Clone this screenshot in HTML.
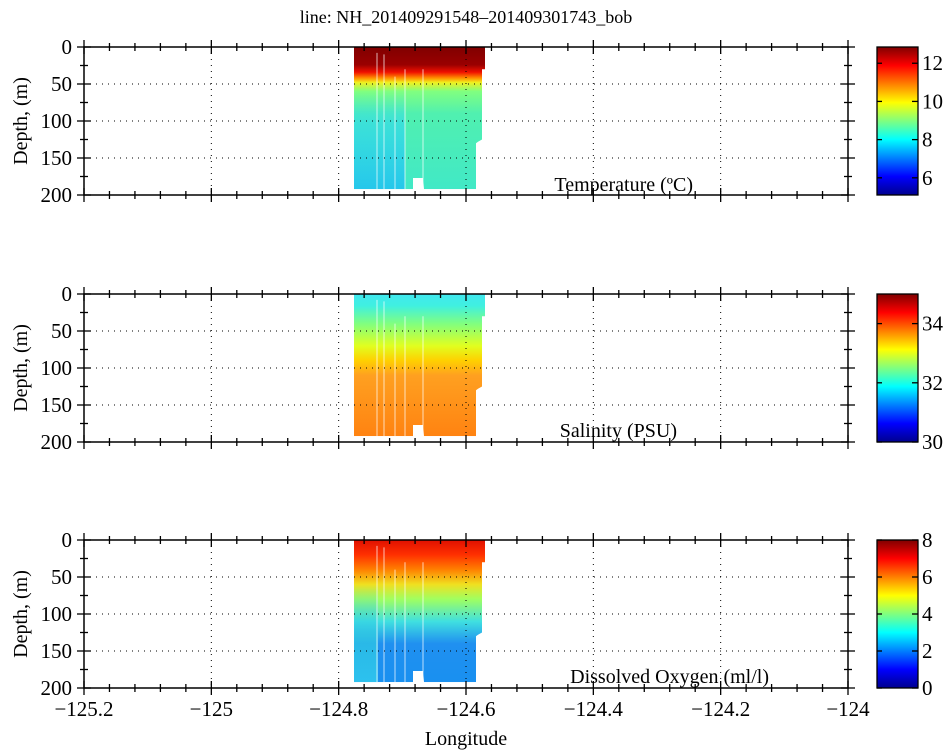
<!DOCTYPE html>
<html><head><meta charset="utf-8"><style>
html,body{margin:0;padding:0;background:#fff;}
svg{display:block;}
svg text{font-family:"Liberation Serif",serif;}
</style></head><body>
<svg id="s" width="950" height="754" xmlns="http://www.w3.org/2000/svg" font-family="Liberation Serif, serif">
<defs>
<linearGradient id="jet" x1="0" y1="1" x2="0" y2="0">
<stop offset="0" stop-color="#00008f"/><stop offset="0.125" stop-color="#0000ff"/><stop offset="0.375" stop-color="#00ffff"/><stop offset="0.625" stop-color="#ffff00"/><stop offset="0.875" stop-color="#ff0000"/><stop offset="1" stop-color="#800000"/>
</linearGradient>
<linearGradient id="gT" x1="0" y1="0" x2="0" y2="1">
<stop offset="0" stop-color="#800000"/><stop offset="0.12" stop-color="#9a0000"/><stop offset="0.17" stop-color="#f01000"/><stop offset="0.21" stop-color="#ff9000"/><stop offset="0.24" stop-color="#f0f020"/><stop offset="0.3" stop-color="#80ff80"/><stop offset="0.45" stop-color="#50f0b0"/><stop offset="1" stop-color="#40e8c8"/>
</linearGradient>
<linearGradient id="gT2" x1="0" y1="0" x2="0" y2="1">
<stop offset="0" stop-color="#40e0e8" stop-opacity="0"/><stop offset="0.3" stop-color="#30d8f0" stop-opacity="0.6"/><stop offset="1" stop-color="#20c0f0" stop-opacity="0.9"/>
</linearGradient>
<linearGradient id="gS" x1="0" y1="0" x2="0" y2="1">
<stop offset="0" stop-color="#40e8f0"/><stop offset="0.08" stop-color="#40f0e0"/><stop offset="0.2" stop-color="#80ff80"/><stop offset="0.35" stop-color="#e0ff20"/><stop offset="0.45" stop-color="#ffd000"/><stop offset="0.55" stop-color="#ffa020"/><stop offset="1" stop-color="#ff8010"/>
</linearGradient>
<linearGradient id="gO" x1="0" y1="0" x2="0" y2="1">
<stop offset="0" stop-color="#e01000"/><stop offset="0.1" stop-color="#ff3000"/><stop offset="0.2" stop-color="#ff8000"/><stop offset="0.3" stop-color="#f0e020"/><stop offset="0.4" stop-color="#a0ff60"/><stop offset="0.55" stop-color="#40e0e0"/><stop offset="0.7" stop-color="#2090f0"/><stop offset="1" stop-color="#1890f0"/>
</linearGradient>
<linearGradient id="gO2" x1="0" y1="0" x2="0" y2="1">
<stop offset="0" stop-color="#30c0f0" stop-opacity="0"/><stop offset="0.5" stop-color="#30d0e0" stop-opacity="0.6"/><stop offset="1" stop-color="#30c8f0" stop-opacity="0.9"/>
</linearGradient>
<clipPath id="shape"><polygon points="354,0 485,0 485,30 482,30 482,125 478,128 476,130 476,192 424,192 423,177 413,177 413,192 354,192"/></clipPath>
</defs>
<text x="466" y="23" font-size="18" text-anchor="middle">line: NH_201409291548–201409301743_bob</text>
</svg>
<script>
const s=document.getElementById('s'),NS='http://www.w3.org/2000/svg';
function el(t,a,p){const e=document.createElementNS(NS,t);for(const k in a)e.setAttribute(k,a[k]);(p||s).appendChild(e);return e;}
function tx(x,y,str,a){const e=el('text',Object.assign({x:x,y:y,'font-size':21,'font-family':'Liberation Serif, serif'},a||{}));e.textContent=str;return e;}
const L=84,R=848,H=148,tops=[47,294,540];
const fills=[['gT','gT2',60],['gS',null,0],['gO','gO2',60]];
const labels=[['Temperature (ºC)',693,191],['Salinity (PSU)',677,437],['Dissolved Oxygen (ml/l)',769,683]];
const cb=[[5.1,12.85,[6,8,10,12]],[30,35,[30,32,34]],[0,8,[0,2,4,6,8]]];
tops.forEach((T,i)=>{
 const g=el('g',{transform:`translate(0,${T}) scale(1,0.74)`});
 const d=el('g',{'clip-path':'url(#shape)'},g);
 el('rect',{x:350,y:0,width:140,height:200,fill:`url(#${fills[i][0]})`},d);
 if(fills[i][1]) el('rect',{x:350,y:fills[i][2],width:i==0?55:28,height:140,fill:`url(#${fills[i][1]})`},d);
 [[377,8],[384,10],[405,30],[423,30],[395,40]].forEach(([x,y0])=>el('line',{x1:x,y1:y0,x2:x,y2:192,stroke:'#fff','stroke-width':1,'stroke-opacity':0.7},d));
 for(let k=1;k<6;k++){const x=L+k*(R-L)/6;el('line',{x1:x,y1:T,x2:x,y2:T+H,stroke:'#000','stroke-width':1,'stroke-dasharray':'1,5'});}
 [50,100,150].forEach(v=>{const y=T+v*0.74;el('line',{x1:L,y1:y,x2:R,y2:y,stroke:'#000','stroke-width':1,'stroke-dasharray':'1,5'});});
 el('rect',{x:L,y:T,width:R-L,height:H,fill:'none',stroke:'#000','stroke-width':1.5});
 for(let k=0;k<=30;k++){const x=L+k*(R-L)/30,len=k%5==0?7:4;
  el('line',{x1:x,y1:T-len,x2:x,y2:T+len,stroke:'#000','stroke-width':1.3});
  el('line',{x1:x,y1:T+H-len,x2:x,y2:T+H+len,stroke:'#000','stroke-width':1.3});}
 for(let v=0;v<=200;v+=25){const y=T+v*0.74,len=v%50==0?7:4;
  el('line',{x1:L-len,y1:y,x2:L+len,y2:y,stroke:'#000','stroke-width':1.3});
  el('line',{x1:R-len,y1:y,x2:R+len,y2:y,stroke:'#000','stroke-width':1.3});
  if(v%50==0) tx(72,y+7,String(v),{'text-anchor':'end'});}
 tx(0,0,'Depth, (m)',{transform:`translate(27,${T+H/2}) rotate(-90)`,'text-anchor':'middle','font-size':20});
 tx(labels[i][1],labels[i][2],labels[i][0],{'text-anchor':'end','font-size':20});
 el('rect',{x:877,y:T,width:41,height:H,fill:'url(#jet)',stroke:'#000','stroke-width':1.3});
 const [lo,hi,ticks]=cb[i];
 ticks.forEach(v=>{const y=T+H-(v-lo)/(hi-lo)*H;
  el('line',{x1:912,y1:y,x2:918,y2:y,stroke:'#000','stroke-width':1.3});
  el('line',{x1:877,y1:y,x2:882,y2:y,stroke:'#000','stroke-width':1.3});
  tx(922,y+7,String(v));});
});
for(let k=0;k<=6;k++){const x=L+k*(R-L)/6;const v=(-125.2+k*0.2);let t=v.toFixed(1).replace(/\.0$/,'');tx(x,716,t.replace('-','−'),{'text-anchor':'middle'});}
tx(466,745,'Longitude',{'text-anchor':'middle','font-size':20});
</script>
</body></html>
